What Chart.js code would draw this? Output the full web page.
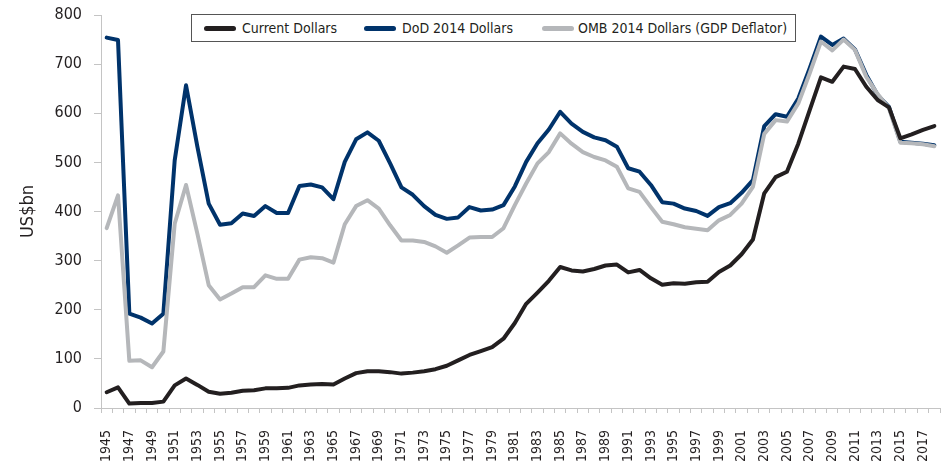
<!DOCTYPE html>
<html>
<head>
<meta charset="utf-8">
<script src="https://cdn.jsdelivr.net/npm/chart.js@4"></script>
<style>
  html, body { margin: 0; padding: 0; background: #fff; }
  #wrap { position: relative; width: 950px; height: 467px; }
  #legend {
    position: absolute; left: 191px; top: 14px; width: 605px; height: 28px;
    border: 1px solid #555; background: #fff; box-sizing: border-box;
    font-family: "Liberation Sans Narrow", "DejaVu Sans Condensed", "Roboto Condensed", sans-serif;
    font-size: 14px; color: #231f20;
  }
  .item { position: absolute; top: 0; height: 26px; line-height: 26px; white-space: nowrap; }
  .swatch { position: absolute; top: 11px; width: 32px; height: 5px; border-radius: 3px; }
</style>
</head>
<body>
<div id="wrap">
  <canvas id="c" width="950" height="467"></canvas>
  <div id="legend"></div>
</div>
<script>
const years = ["1945","1946","1947","1948","1949","1950","1951","1952","1953","1954",
  "1955","1956","1957","1958","1959","1960","1961","1962","1963","1964",
  "1965","1966","1967","1968","1969","1970","1971","1972","1973","1974",
  "1975","1976","1977","1978","1979","1980","1981","1982","1983","1984",
  "1985","1986","1987","1988","1989","1990","1991","1992","1993","1994",
  "1995","1996","1997","1998","1999","2000","2001","2002","2003","2004",
  "2005","2006","2007","2008","2009","2010","2011","2012","2013","2014",
  "2015","2016","2017","2018"];

const currentDollars = [32,42,9,10,10,13,46,60,47,33,
  29,31,35,36,40,40,41,46,48,49,
  48,60,71,75,75,73,70,72,75,79,
  86,97,108,116,124,141,173,212,235,259,
  287,280,278,283,290,292,276,281,264,251,
  254,253,256,257,277,290,313,343,437,470,
  481,538,606,673,664,695,690,654,627,612,
  549,557,566,574];

const dod2014Dollars = [754,749,192,184,172,192,504,657,532,416,
  373,376,396,391,411,397,397,452,455,449,
  425,501,547,561,544,498,449,434,411,393,
  385,388,409,402,404,413,451,501,539,567,
  603,579,562,551,545,532,488,481,454,419,
  416,406,401,391,409,417,438,464,574,598,
  593,630,691,756,739,752,730,678,637,613,
  542,540,538,535];

const omb2014Dollars = [366,433,96,97,83,115,375,454,355,250,
  221,233,246,246,270,263,263,302,307,305,
  296,374,411,423,406,372,341,341,338,329,
  316,331,347,348,348,366,413,457,498,521,
  559,538,521,511,504,491,447,440,409,379,
  374,368,365,362,382,393,416,450,558,586,
  583,620,681,746,728,750,729,674,639,610,
  540,539,537,533];

const seriesNames = ["Current Dollars", "DoD  2014 Dollars", "OMB 2014 Dollars (GDP Deflator)"];
const seriesColors = ["#231f20", "#00336b", "#b5b7ba"];
const yTicks = [0,100,200,300,400,500,600,700,800];
const yTitle = "US$bn";

const FONT = '"Liberation Sans Narrow", "DejaVu Sans Condensed", "Roboto Condensed", sans-serif';

// HTML legend
const legendPos = [{s: 12, t: 50}, {s: 172, t: 210}, {s: 350, t: 386}];
const lg = document.getElementById('legend');
seriesNames.forEach((n, i) => {
  const sw = document.createElement('div');
  sw.className = 'swatch';
  sw.style.left = legendPos[i].s + 'px';
  sw.style.background = seriesColors[i];
  lg.appendChild(sw);
  const t = document.createElement('div');
  t.className = 'item';
  t.style.left = legendPos[i].t + 'px';
  t.textContent = n;
  lg.appendChild(t);
});

const mk = (label, data, color, order) => ({
  label, data, borderColor: color, backgroundColor: color,
  borderWidth: 4, pointRadius: 0, tension: 0, fill: false, order,
  borderJoinStyle: 'round', borderCapStyle: 'round'
});

new Chart(document.getElementById('c'), {
  type: 'line',
  data: {
    labels: years,
    datasets: [
      mk(seriesNames[0], currentDollars, seriesColors[0], 0),
      mk(seriesNames[1], dod2014Dollars, seriesColors[1], 2),
      mk(seriesNames[2], omb2014Dollars, seriesColors[2], 1)
    ]
  },
  options: {
    responsive: false,
    animation: false,
    devicePixelRatio: 1,
    layout: { padding: { top: 15, right: 10, bottom: 0, left: 0 } },
    plugins: { legend: { display: false }, tooltip: { enabled: false } },
    scales: {
      x: {
        type: 'category',
        offset: true,
        grid: { display: true, offset: true, drawOnChartArea: false, drawTicks: true, tickLength: 5, color: '#c4c4c4', lineWidth: 1 },
        border: { display: true, color: '#c4c4c4', width: 1 },
        ticks: {
          autoSkip: false, maxRotation: 90, minRotation: 90, padding: 17,
          color: '#231f20', font: { family: FONT, size: 14 },
          callback: function(v, i) { return i % 2 === 0 ? this.getLabelForValue(v) : ''; }
        },
        afterFit: (s) => { s.height = 59; s.paddingLeft = 0; s.paddingRight = 0; }
      },
      y: {
        min: 0, max: 800,
        afterBuildTicks: (s) => { s.ticks = yTicks.map(v => ({ value: v })); },
        grid: { display: true, drawOnChartArea: false, drawTicks: true, tickLength: 7, color: '#c4c4c4' },
        border: { display: true, color: '#c4c4c4', width: 1 },
        ticks: { padding: 12, color: '#231f20', font: { family: FONT, size: 16 } },
        title: { display: true, text: yTitle, color: '#231f20', font: { family: FONT, size: 18 }, padding: { top: 18, bottom: 0 } },
        afterFit: (s) => { s.width = 101; s.paddingTop = 0; s.paddingBottom = 0; }
      }
    }
  }
});
</script>
</body>
</html>
